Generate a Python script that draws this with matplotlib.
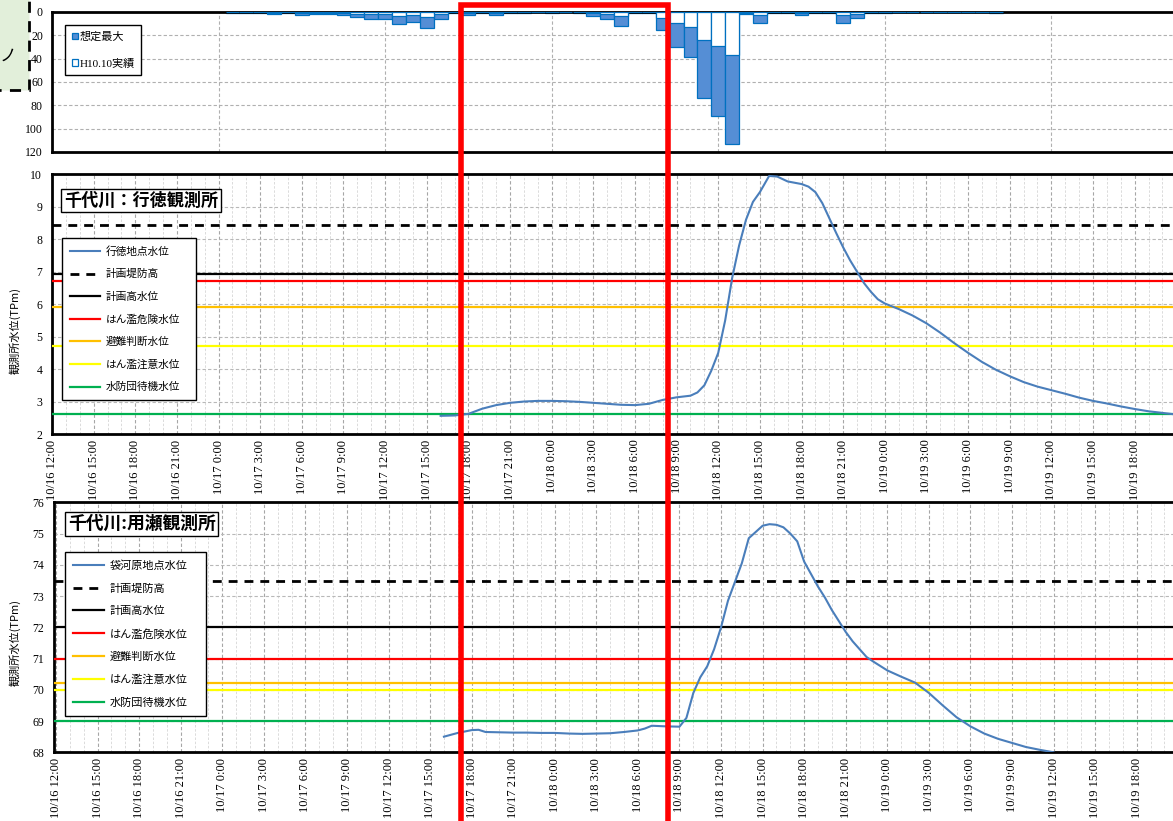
import matplotlib
matplotlib.use("Agg")
import matplotlib.pyplot as plt
import matplotlib.dates as mdates
from matplotlib.font_manager import FontProperties
from matplotlib.patches import Rectangle
from matplotlib.ticker import MultipleLocator, FuncFormatter
import pandas as pd

# ---------------- data ----------------
YEAR = "2004/"
x_start = "10/16 12:00"

rain_first = "10/17 1:00"          # first hourly rain bar
rain_max = [0.5, 0.5, 0.5, 1.7, 0.5, 2.6, 1.4, 1.7, 2.9, 4.3, 5.7, 6.0, 10.6, 8.9, 14.0, 5.7,
            0.6, 2.3, 1.0, 2.3, 1.0, 1.0, 0.3, 1.0, 0.3, 1.0, 3.7, 6.0, 11.8, 1.0, 1.0, 15.8,
            29.6, 38.7, 74.0, 89.2, 113.3, 1.7, 9.5, 0.5, 0.5, 2.3, 0.5, 0.5, 9.5, 5.2,
            1.0, 0.5, 0, 0, 0, 0, 0, 0, 0, 1.0]
rain_h10 = [0.2, 0.2, 0.2, 0.5, 0.2, 0.8, 0.5, 0.5, 0.9, 1.4, 1.8, 2.0, 3.4, 2.9, 4.5, 1.8,
            0.2, 0.7, 0.3, 0.7, 0.3, 0.3, 0.1, 0.3, 0.1, 0.3, 1.2, 2.0, 3.8, 0.3, 0.3, 5.2,
            9.5, 12.9, 23.8, 29.0, 36.7, 0.6, 2.9, 0.2, 0.2, 0.7, 0.2, 0.2, 2.9, 1.6,
            0.3, 0.2, 0, 0, 0, 0, 0, 0, 0, 0.3]

gyo_time = ["10/17 16:00", "10/17 17:00", "10/17 18:00", "10/17 19:00", "10/17 20:00",
            "10/17 21:00", "10/17 22:00", "10/17 23:00", "10/18 0:00", "10/18 1:00",
            "10/18 2:00", "10/18 3:00", "10/18 4:00", "10/18 5:00", "10/18 6:00",
            "10/18 7:00", "10/18 8:00", "10/18 9:00", "10/18 10:00", "10/18 10:30",
            "10/18 11:00", "10/18 11:30", "10/18 12:00", "10/18 12:30", "10/18 13:00",
            "10/18 13:30", "10/18 14:00", "10/18 14:30", "10/18 15:00", "10/18 15:40",
            "10/18 16:15", "10/18 17:00", "10/18 18:00", "10/18 18:30", "10/18 19:00",
            "10/18 19:30", "10/18 20:00", "10/18 20:30", "10/18 21:00", "10/18 21:30",
            "10/18 22:00", "10/18 22:30", "10/18 23:00", "10/18 23:30", "10/19 0:00",
            "10/19 1:00", "10/19 2:00", "10/19 3:00", "10/19 4:00", "10/19 5:00",
            "10/19 6:00", "10/19 7:00", "10/19 8:00", "10/19 9:00", "10/19 10:00",
            "10/19 11:00", "10/19 12:00", "10/19 13:00", "10/19 14:00", "10/19 15:00",
            "10/19 16:00", "10/19 17:00", "10/19 18:00", "10/19 19:00", "10/19 20:00",
            "10/19 21:00"]
gyo_level = [2.56, 2.57, 2.62, 2.78, 2.89, 2.96, 3.00, 3.02, 3.02, 3.01,
             2.99, 2.96, 2.93, 2.90, 2.89, 2.93, 3.05, 3.13, 3.18, 3.28,
             3.50, 3.95, 4.50, 5.50, 6.80, 7.80, 8.60, 9.15, 9.45, 9.95,
             9.93, 9.78, 9.70, 9.62, 9.45, 9.11, 8.65, 8.19, 7.75, 7.35,
             7.00, 6.65, 6.38, 6.15, 6.02, 5.85, 5.65, 5.41, 5.12, 4.80,
             4.50, 4.22, 3.98, 3.78, 3.60, 3.46, 3.35, 3.24, 3.12, 3.02,
             2.94, 2.85, 2.77, 2.70, 2.65, 2.60]

mochi_time = ["10/17 16:00", "10/17 17:00", "10/17 18:00", "10/17 18:30", "10/17 19:00",
              "10/17 20:00", "10/17 21:00", "10/17 22:00", "10/17 23:00", "10/18 0:00",
              "10/18 1:00", "10/18 2:00", "10/18 3:00", "10/18 4:00", "10/18 5:00",
              "10/18 6:00", "10/18 6:30", "10/18 7:00", "10/18 8:00", "10/18 9:00",
              "10/18 9:30", "10/18 10:00", "10/18 10:30", "10/18 11:00", "10/18 11:30",
              "10/18 12:00", "10/18 12:30", "10/18 13:00", "10/18 13:30", "10/18 14:00",
              "10/18 14:30", "10/18 15:00", "10/18 15:30", "10/18 16:00", "10/18 16:30",
              "10/18 17:00", "10/18 17:30", "10/18 18:00", "10/18 18:30", "10/18 19:00",
              "10/18 19:30", "10/18 20:00", "10/18 20:30", "10/18 21:00", "10/18 21:30",
              "10/18 22:00", "10/18 22:30", "10/18 23:00", "10/19 0:00", "10/19 1:00",
              "10/19 2:00", "10/19 3:00", "10/19 4:00", "10/19 5:00", "10/19 6:00",
              "10/19 7:00", "10/19 8:00", "10/19 9:00", "10/19 10:00", "10/19 11:00",
              "10/19 12:00"]
mochi_level = [68.50, 68.62, 68.71, 68.72, 68.65, 68.64, 68.63, 68.63, 68.62, 68.62,
               68.60, 68.59, 68.60, 68.61, 68.65, 68.70, 68.76, 68.85, 68.83, 68.82,
               69.10, 69.90, 70.40, 70.75, 71.30, 72.00, 72.85, 73.45, 74.05, 74.85,
               75.05, 75.25, 75.30, 75.28, 75.20, 75.00, 74.75, 74.10, 73.70, 73.30,
               72.95, 72.55, 72.20, 71.85, 71.55, 71.30, 71.05, 70.90, 70.62, 70.42,
               70.23, 69.90, 69.50, 69.12, 68.83, 68.60, 68.43, 68.30, 68.17, 68.08,
               68.00]

level_names = ["計画堤防高", "計画高水位", "はん濫危険水位", "避難判断水位", "はん濫注意水位", "水防団待機水位"]
gyo_levels = [8.45, 6.92, 6.71, 5.91, 4.71, 2.62]
mochi_levels = [73.48, 72.00, 71.00, 70.23, 70.00, 69.00]
level_colors = ["black", "black", "#ff0000", "#ffc000", "#ffff00", "#00b050"]
level_styles = ["dashed", "solid", "solid", "solid", "solid", "solid"]

# ---------------- helpers ----------------
def to_dt(lst):
    return pd.to_datetime([YEAR + s for s in lst], format="%Y/%m/%d %H:%M")

t0 = pd.Timestamp(YEAR + x_start)
W, H = 1173, 821
PXH = 13.88                      # pixels per hour
t_end = t0 + pd.Timedelta(hours=(W - 52) / PXH)

def rect(l, t, r, b):
    return [l / W, 1 - b / H, (r - l) / W, (b - t) / H]

def fmt_date(x, pos=None):
    d = mdates.num2date(x)
    return f"{d.month}/{d.day} {d.hour}:{d.minute:02d}"

CJK = ["Noto Sans CJK JP", "DejaVu Sans"]
SERIF = "Liberation Serif"

fig = plt.figure(figsize=(W / 100, H / 100), dpi=100)

# left partial box (cut off), behind everything
fig.patches.append(Rectangle((-10 / W, 1 - 90 / H), 39 / W, 100 / H,
                             transform=fig.transFigure, facecolor="#e2efda",
                             edgecolor="black", linestyle=(0, (4, 3)), linewidth=2.0,
                             zorder=-1))
fig.text(0 / W, 1 - 56 / H, "ノ", ha="left", va="center", fontsize=12, family=CJK,
         zorder=0)


def style_axes(ax):
    for s in ["left", "top", "bottom"]:
        ax.spines[s].set_linewidth(2.0)
        ax.spines[s].set_color("black")
    ax.spines["right"].set_visible(False)
    ax.set_xlim(t0, t_end)
    ax.tick_params(axis="both", which="both", length=0, labelsize=8.5,
                   labelfontfamily=SERIF)
    ax.set_axisbelow(True)


# ---------------- rain chart ----------------
ax0 = fig.add_axes(rect(52, 12, W, 152))
style_axes(ax0)
rain_t = pd.date_range(YEAR + rain_first, periods=len(rain_max), freq="h")
bw = 1 / 24
b1 = ax0.bar(rain_t, rain_max, width=bw, color="#558ed5", edgecolor="#0070c0",
             linewidth=0.9, label="想定最大", zorder=2)
b2 = ax0.bar(rain_t, rain_h10, width=bw, color="white", edgecolor="#0070c0",
             linewidth=0.9, label="H10.10実績", zorder=3)
ax0.set_ylim(120, 0)
ax0.yaxis.set_major_locator(MultipleLocator(20))
ax0.xaxis.set_major_locator(mdates.HourLocator(byhour=[0, 12]))
ax0.xaxis.set_major_formatter(FuncFormatter(lambda x, p: ""))
ax0.grid(True, which="major", axis="both", color="#b0b0b0", ls=(0, (3, 2)), lw=0.8)
ax0.tick_params(axis="y", pad=6.5)
leg0 = ax0.legend(handles=[b1, b2], loc="upper left",
                  bbox_to_anchor=((65 - 52) / (W - 52), 1 - (25 - 12) / 140),
                  borderaxespad=0, frameon=True, fancybox=False, framealpha=1,
                  edgecolor="black", handlelength=0.55, handleheight=0.55,
                  handletextpad=0.15, labelspacing=1.5, borderpad=0.6,
                  prop=FontProperties(family=[SERIF, "Noto Sans CJK JP"], size=8))
leg0.get_frame().set_linewidth(1.0)


# ---------------- water level charts ----------------
def level_chart(ax, times, vals, levels, ylim, title, title_xy, title_size,
                line_label, leg_box, leg_fs, leg_sp):
    style_axes(ax)
    ln, = ax.plot(to_dt(times), vals, color="#4a7ebb", lw=1.5, label=line_label, zorder=4)
    handles = [ln]
    for name, v, c, s in zip(level_names, levels, level_colors, level_styles):
        h = ax.axhline(v, color=c, lw=1.6, label=name, zorder=3)
        if s == "dashed":
            h.set_dashes((3.2, 2.5))
            h.set_linewidth(2.0)
        handles.append(h)
    ax.set_ylim(*ylim)
    ax.yaxis.set_major_locator(MultipleLocator(1))
    ax.xaxis.set_major_locator(mdates.HourLocator(byhour=range(0, 24, 3)))
    ax.xaxis.set_minor_locator(mdates.HourLocator())
    ax.xaxis.set_major_formatter(FuncFormatter(fmt_date))
    ax.tick_params(axis="x", labelrotation=90, pad=4, labelsize=9)
    ax.tick_params(axis="y", pad=7)
    ax.grid(True, which="major", axis="x", color="#a6a6a6", ls=(0, (3, 2)), lw=0.8)
    ax.grid(True, which="minor", axis="x", color="#d6d6d6", ls=(0, (3, 2)), lw=0.6)
    ax.grid(True, which="major", axis="y", color="#b8b8b8", ls=(0, (3, 2)), lw=0.8)
    ax.text(title_xy[0], title_xy[1], title, transform=ax.transAxes, ha="left",
            va="center", fontsize=title_size, fontweight="bold", family=CJK,
            zorder=6, bbox=dict(boxstyle="square,pad=0.15", facecolor="white",
                                edgecolor="black", linewidth=1.0))
    leg = ax.legend(handles=handles, loc="upper left", bbox_to_anchor=leg_box,
                    mode="expand", borderaxespad=0, frameon=True, fancybox=False,
                    framealpha=1, edgecolor="black", handlelength=2.8,
                    handletextpad=0.5, labelspacing=leg_sp, borderpad=0.75,
                    prop=FontProperties(family=CJK, size=leg_fs))
    leg.get_frame().set_linewidth(1.0)
    leg.set_zorder(7)


ax1 = fig.add_axes(rect(52, 174.3, W, 434))
w1 = W - 52
level_chart(ax1, gyo_time, gyo_level, gyo_levels, (2, 10), "千代川：行徳観測所",
            ((64 - 52) / w1, (434 - 200.5) / 259.7), 12.3, "行徳地点水位",
            ((62 - 52) / w1, (434 - 400) / 259.7, 134 / w1, 162 / 259.7), 7.7, 1.15)

ax2 = fig.add_axes(rect(54, 502.3, W, 752.3))
w2 = W - 54
level_chart(ax2, mochi_time, mochi_level, mochi_levels, (68, 76), "千代川:用瀬観測所",
            ((68 - 54) / w2, (752.3 - 524) / 250), 12.8, "袋河原地点水位",
            ((65 - 54) / w2, (752.3 - 718) / 250, 141 / w2, 166 / 250), 8.0, 1.12)
ax2.set_xlim(t0 - pd.Timedelta(hours=2 / PXH), t_end - pd.Timedelta(hours=2 / PXH))

# y-axis labels
fig.text(15 / W, 1 - 330 / H, "観測所水位(TPm)", rotation=90, ha="center", va="center",
         fontsize=8, family=CJK)
fig.text(15 / W, 1 - 642 / H, "観測所水位(TPm)", rotation=90, ha="center", va="center",
         fontsize=8, family=CJK)

# red highlight frame
fig.patches.append(Rectangle((461 / W, -0.05), (668 - 461) / W, 1.05 - 5.5 / H,
                             transform=fig.transFigure, fill=False,
                             edgecolor="#ff0000", linewidth=4.0, zorder=10))

fig.savefig("out.png", dpi=100)
